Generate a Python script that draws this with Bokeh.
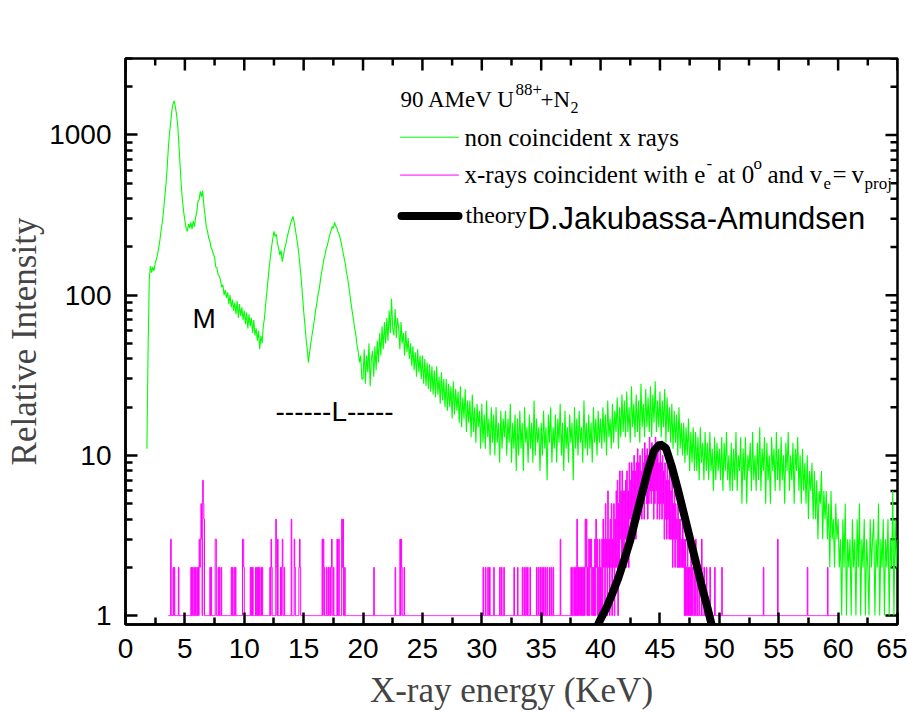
import math
from bokeh.plotting import figure
from bokeh.models import Range1d, FixedTicker, NumeralTickFormatter, Label
from bokeh.embed import file_html
from bokeh.resources import INLINE

# ---------------- data ----------------
x_ticks = [0, 5, 10, 15, 20, 25, 30, 35, 40, 45, 50, 55, 60, 65]
x_minor = [2.5, 7.5, 12.5, 17.5, 22.5, 27.5, 32.5, 37.5, 42.5, 47.5, 52.5, 57.5, 62.5]
y_ticks = [1, 10, 100, 1000]
y_minor = [2, 3, 4, 5, 6, 7, 8, 9, 20, 30, 40, 50, 60, 70, 80, 90,
           200, 300, 400, 500, 600, 700, 800, 900, 2000, 3000]

# non coincident spectrum, channels every 0.1 keV from 1.8 keV to 65.0 keV
green_start_keV = 1.8
green_step_keV = 0.1
green_counts = [
    11, 45,
    125, 152, 138, 150, 142, 158, 168, 180, 198, 222,
    255, 285, 335, 405, 485, 610, 815, 1010, 1190, 1420,
    1560, 1630, 1490, 1340, 1140, 860, 640, 480, 390, 330,
    292, 262, 250, 278, 262, 285, 258, 290, 268, 305,
    330, 385, 395, 445, 410, 450, 360, 315, 268, 252,
    228, 218, 198, 192, 180, 172, 150, 148, 134, 132,
    124, 112, 116, 100, 108, 96, 104, 88, 100, 84,
    94, 80, 90, 76, 92, 72, 88, 74, 84, 70,
    80, 66, 78, 62, 76, 64, 72, 58, 70, 56,
    62, 52, 60, 46, 56, 50, 64, 72, 88, 104,
    125, 150, 172, 200, 225, 250, 232, 240, 210, 195,
    178, 190, 162, 178, 195, 208, 228, 245, 262, 280,
    295, 310, 285, 258, 230, 205, 180, 150, 125, 100,
    80, 66, 54, 46, 38, 44, 50, 56, 62, 70,
    80, 88, 100, 108, 122, 138, 150, 168, 178, 195,
    205, 222, 238, 252, 268, 262, 285, 270, 262, 248,
    238, 222, 205, 188, 172, 158, 140, 128, 114, 100,
    88, 78, 70, 62, 56, 48, 44, 38, 42, 30,
    30, 46, 28, 42, 33, 50, 27, 40, 45, 31,
    48, 34, 52, 38, 58, 42, 64, 46, 68, 50,
    72, 52, 80, 58, 95, 62, 56, 82, 54, 72,
    62, 46, 68, 50, 58, 42, 60, 44, 54, 40,
    50, 36, 48, 34, 44, 31, 46, 33, 42, 30,
    42, 28, 40, 27, 38, 26, 37, 25, 36, 24,
    34, 23, 36, 24, 31, 21, 33, 22, 30, 20,
    30, 19, 28, 20, 27, 17, 29, 18, 26, 19,
    25, 16, 27, 15, 23, 17, 26, 14, 22, 16,
    22, 13, 24, 14, 20, 12, 21, 15, 19, 11,
    21, 12, 18, 11, 22, 13, 17, 10, 20, 12,
    18, 10, 20, 12, 16, 9, 19, 11, 17, 13,
    19, 10, 17, 12, 21, 9, 16, 11, 18, 8,
    17, 10, 19, 11, 16, 8, 20, 12, 15, 9,
    18, 11, 16, 9, 22, 10, 17, 12, 15, 8,
    16, 10, 19, 11, 15, 7, 18, 12, 20, 9,
    15, 11, 18, 9, 17, 12, 21, 10, 16, 8,
    19, 11, 15, 9, 18, 12, 16, 7, 20, 11,
    17, 10, 19, 12, 15, 9, 22, 11, 16, 10,
    18, 11, 16, 9, 20, 12, 17, 10, 19, 12,
    17, 11, 20, 12, 18, 10, 22, 13, 17, 11,
    21, 12, 19, 14, 23, 11, 20, 13, 24, 14,
    22, 13, 25, 14, 20, 12, 27, 15, 21, 13,
    24, 14, 22, 12, 28, 15, 21, 13, 26, 15,
    23, 14, 27, 13, 24, 16, 29, 14, 22, 15,
    25, 13, 22, 15, 26, 12, 23, 14, 20, 12,
    21, 11, 19, 12, 18, 10, 20, 11, 16, 10,
    16, 9, 15, 10, 17, 8, 14, 9, 15, 8,
    14, 8, 13, 7, 15, 9, 12, 7, 14, 8,
    12, 7, 14, 8, 11, 6, 13, 7, 12, 8,
    11, 7, 13, 6, 12, 8, 14, 7, 10, 6,
    12, 6, 11, 7, 14, 6, 10, 8, 13, 5,
    11, 7, 13, 5, 10, 8, 12, 6, 14, 7,
    10, 6, 12, 7, 15, 6, 11, 8, 13, 5,
    12, 7, 10, 5, 13, 8, 11, 6, 14, 7,
    11, 6, 13, 7, 10, 5, 12, 8, 14, 6,
    10, 7, 12, 5, 11, 8, 13, 6, 10, 5,
    11, 6, 9, 5, 10, 4, 8, 6, 9, 4,
    8, 4, 7, 3, 6, 5, 8, 3, 6, 4,
    6, 3, 5, 2, 6, 3, 4, 2, 5, 3,
    4, 2, 3, 1, 4, 2, 5, 1, 3, 2,
    3, 1, 4, 2, 3, 1, 4, 2, 5, 1,
    3, 2, 4, 1, 3, 2, 1, 4, 2, 3,
    4, 1, 3, 2, 5, 1, 3, 2, 4, 1,
    3, 2, 4, 1, 3, 2, 6, 1, 4, 2,
    3,
]

# coincident spectrum: channels every 0.05 keV from 3.6 to 60 keV, 1 count unless listed
magenta_start_keV = 3.6
magenta_end_keV = 60.0
magenta_step_keV = 0.05
magenta_spike_keV = [
    3.80, 4.00, 4.10, 4.45,
    5.50, 5.60, 5.75, 5.85, 6.00, 6.10, 6.20, 6.25, 6.30, 6.35, 6.40, 6.50, 6.55, 6.60,
    7.10, 7.20, 7.55, 7.60, 7.80, 7.90, 8.05,
    8.90, 9.00, 9.15, 9.25, 9.85, 9.90, 9.95,
    10.50, 10.60, 10.70, 10.95, 11.05, 11.15, 11.25, 11.40, 11.50,
    12.15, 12.25, 12.30, 12.65, 12.70, 12.80, 13.05, 13.15, 13.20, 13.35,
    13.95, 14.20, 14.25, 14.60, 14.65, 14.70,
    16.55, 16.65, 16.70, 16.90, 17.05, 17.20, 17.30, 17.35, 17.50, 17.80, 17.95, 18.20, 18.25, 18.30, 18.45,
    20.90, 22.70, 23.10, 23.20, 23.25, 23.45,
    30.10, 30.30, 30.50, 30.65, 31.00, 31.50, 31.65, 31.85, 32.70, 33.00,
    33.40, 33.55, 33.70, 33.85, 34.05, 34.60, 34.75, 34.90, 35.05, 35.20,
    35.35, 35.50, 35.70, 35.85, 36.00, 36.60, 37.50, 37.65, 37.80,
    37.90, 38.00, 38.10, 38.20, 38.30, 38.40, 38.50, 38.60, 38.70, 38.75,
    38.80, 38.90, 39.00, 39.10, 39.15, 39.20, 39.30, 39.40, 39.50, 39.60,
    39.65, 39.70, 39.80, 39.90, 40.00, 40.10, 40.20, 40.25, 40.30, 40.40,
    40.45, 40.50, 40.60, 40.65, 40.70, 40.80, 40.85, 40.90, 41.00, 41.05,
    41.10, 41.20, 41.25, 41.30, 41.35, 41.40, 41.50, 41.55, 41.60, 41.65,
    41.70, 41.75, 41.80, 41.85, 41.90, 41.95,
    47.10, 47.20, 47.30, 47.40, 47.50, 47.60, 47.70, 47.85, 48.00, 48.15,
    48.30, 48.50, 48.70, 48.90, 49.20, 49.60, 50.20, 53.70, 54.90, 57.40, 59.10,
]
magenta_spike_counts = [
    3, 2, 2, 2,
    2, 2, 2, 2, 2, 2, 3, 2, 3, 5, 3, 7, 5, 4,
    2, 2, 3, 3, 2, 2, 2,
    2, 2, 2, 2, 3, 3, 2,
    2, 2, 2, 2, 2, 2, 2, 2, 2,
    2, 3, 2, 4, 2, 3, 2, 2, 3, 2,
    4, 3, 2, 2, 3, 2,
    3, 3, 2, 2, 2, 2, 2, 3, 2, 3, 3, 4, 2, 4, 2,
    2, 2, 3, 3, 2, 2,
    2, 2, 2, 2, 2, 2, 2, 2, 2, 2,
    2, 2, 2, 2, 2, 2, 2, 2, 2, 2,
    2, 2, 2, 2, 2, 3, 2, 2, 2,
    2, 4, 2, 2, 2, 2, 2, 2, 4, 2,
    4, 2, 3, 3, 2, 3, 2, 2, 3, 4,
    2, 3, 2, 3, 2, 3, 4, 2, 3, 5,
    2, 3, 6, 2, 3, 4, 2, 5, 3, 2,
    5, 4, 2, 6, 2, 7, 5, 2, 8, 3,
    6, 2, 8, 2, 6, 2,
    3, 2, 3, 2, 2, 3, 2, 2, 3, 2,
    2, 3, 2, 2, 2, 2, 2, 2, 3, 2, 2,
]
# main coincident peak, every channel from 42.00 keV to 47.00 keV
magenta_peak_start_keV = 42.0
magenta_peak_counts = [
    6, 3, 7, 2, 8, 3, 6, 2, 9, 4, 7, 3, 9, 4, 8, 3, 10, 4, 8, 3,
    9, 4, 11, 5, 9, 4, 10, 5, 8, 4, 11, 5, 9, 4, 12, 6, 10, 5, 11, 4,
    9, 5, 13, 6, 10, 5, 12, 6, 9, 4, 11, 5, 13, 6, 10, 4, 12, 5, 9, 4,
    11, 5, 9, 4, 10, 5, 8, 3, 9, 4, 7, 3, 9, 4, 7, 3, 8, 3, 6, 3,
    7, 2, 5, 3, 6, 2, 5, 3, 4, 2, 5, 2, 4, 2, 4, 2, 3, 2, 4, 2,
    3,
]

# theory (D. Jakubassa-Amundsen)
theory_keV = [39.5, 40.0, 40.5, 41.0, 41.5, 42.0, 42.5, 43.0, 43.5, 44.0, 44.5,
              45.0, 45.5, 46.0, 46.5, 47.0, 47.5, 48.0, 48.5, 49.0, 49.5]
theory_intensity = [0.79, 0.95, 1.12, 1.38, 1.72, 2.24, 2.95, 4.17, 5.82, 8.13, 10.7,
                    11.75, 11.1, 8.5, 6.17, 4.37, 3.09, 2.19, 1.55, 1.12, 0.79]

# ---------------- figure ----------------
X0, X1 = 0, 65
Y0, Y1 = 0.88, 3000
LEFT, RIGHT, TOP, BOTTOM = 125, 897, 58, 626
W, H = 907, 712

p = figure(width=W, height=H, x_range=Range1d(X0, X1), y_range=Range1d(Y0, Y1),
           y_axis_type="log", output_backend="svg", toolbar_location=None,
           min_border_left=LEFT, min_border_right=W - RIGHT,
           min_border_top=TOP, min_border_bottom=H - BOTTOM)
p.grid.visible = False
p.outline_line_color = "black"
p.outline_line_width = 2.5
p.background_fill_color = "white"
p.border_fill_color = "white"

xt = FixedTicker(ticks=x_ticks, minor_ticks=x_minor)
yt = FixedTicker(ticks=y_ticks, minor_ticks=y_minor)


def style_axis(ax):
    ax.axis_line_color = "black"
    ax.axis_line_width = 2.5
    ax.major_tick_line_color = "black"
    ax.major_tick_line_width = 2.5
    ax.minor_tick_line_color = "black"
    ax.minor_tick_line_width = 2.5
    ax.major_tick_in = 12
    ax.major_tick_out = 0
    ax.minor_tick_in = 7
    ax.minor_tick_out = 0
    ax.major_label_text_font = "Liberation Sans"
    ax.major_label_text_font_size = "28px"
    ax.major_label_text_color = "black"


xa = p.xaxis[0]
xa.ticker = xt
style_axis(xa)
xa.major_label_standoff = 14
xa.axis_label = "X-ray energy (KeV)"
xa.axis_label_text_font = "Liberation Serif"
xa.axis_label_text_font_size = "35px"
xa.axis_label_text_font_style = "normal"
xa.axis_label_standoff = 10

ya = p.yaxis[0]
ya.ticker = yt
ya.formatter = NumeralTickFormatter(format="0")
style_axis(ya)
ya.major_label_standoff = 14
ya.axis_label = "Relative Intensity"
ya.axis_label_text_font = "Liberation Serif"
ya.axis_label_text_font_size = "35px"
ya.axis_label_text_font_style = "normal"
ya.axis_label_standoff = 2

# mirrored inward ticks on the top and right frame edges
tick_style = dict(line_color="black", line_width=2.5, length_units="screen")
p.ray(x=x_ticks, y=[Y1] * len(x_ticks), length=12, angle=-math.pi / 2, **tick_style)
p.ray(x=x_minor, y=[Y1] * len(x_minor), length=7, angle=-math.pi / 2, **tick_style)
p.ray(x=[X1] * len(y_ticks), y=y_ticks, length=12, angle=math.pi, **tick_style)
p.ray(x=[X1] * len(y_minor), y=y_minor, length=7, angle=math.pi, **tick_style)

# ---------------- series ----------------
green_x = [round(green_start_keV + i * green_step_keV, 2) for i in range(len(green_counts))]
p.line(green_x, green_counts, line_color="#00FF00", line_width=1.1)

n_mag = int(round((magenta_end_keV - magenta_start_keV) / magenta_step_keV)) + 1
mag_x = [round(magenta_start_keV + i * magenta_step_keV, 2) for i in range(n_mag)]
mag_y = [1] * n_mag
assert len(magenta_spike_keV) == len(magenta_spike_counts)
for k, c in zip(magenta_spike_keV, magenta_spike_counts):
    mag_y[int(round((k - magenta_start_keV) / magenta_step_keV))] = c
i0 = int(round((magenta_peak_start_keV - magenta_start_keV) / magenta_step_keV))
for j, c in enumerate(magenta_peak_counts):
    mag_y[i0 + j] = c
p.step(mag_x, mag_y, mode="after", line_color="#FF00FF", line_width=1)

p.line(theory_keV, theory_intensity, line_color="black", line_width=8, line_cap="round")

# ---------------- annotations (pixel positions mapped to data space) ----------------
def to_data(px, py):
    x = X0 + (px - LEFT) / (RIGHT - LEFT) * (X1 - X0)
    ly = math.log10(Y0) + (BOTTOM - py) / (BOTTOM - TOP) * (math.log10(Y1) - math.log10(Y0))
    return x, 10 ** ly


def put(px, py, text, size, font="Liberation Serif"):
    shift = max(7, 0.29 * size)  # Label baseline sits a little below its anchor
    x, y = to_data(px, py - shift)
    p.add_layout(Label(x=x, y=y, text=text, text_font=font, text_font_size=f"{size}px",
                       text_color="black", text_baseline="alphabetic", text_align="left"))


def key_line(px0, px1, py, color, width):
    xa_, ya_ = to_data(px0, py)
    xb_, _ = to_data(px1, py)
    p.line([xa_, xb_], [ya_, ya_], line_color=color, line_width=width, line_cap="round")


put(400, 106, "90 AMeV U", 23)
put(515, 96, "88+", 17)
put(540, 106, "+N", 23)
put(570, 114, "2", 16)

key_line(400, 458, 137, "#00FF00", 1)
put(464, 145, "non coincident x rays", 25)

key_line(400, 458, 175, "#FF00FF", 1)
put(464, 182, "x-rays coincident with e", 25)
put(706, 170, "-", 17)
put(717, 182, "at 0", 25)
put(753, 170, "o", 17)
put(767, 182, "and v", 25)
put(823, 190, "e", 17)
put(832, 182, "=", 25)
put(851, 182, "v", 25)
put(864, 190, "proj", 17)

key_line(401, 458, 216, "black", 8)
put(465, 222, "theory", 24)
put(527, 228, "D.Jakubassa-Amundsen", 31, "Liberation Sans")

put(192, 327, "M", 28, "Liberation Sans")
put(275, 420, "------L-----", 28, "Liberation Sans")

open("out.html", "w").write(file_html(p, INLINE))
